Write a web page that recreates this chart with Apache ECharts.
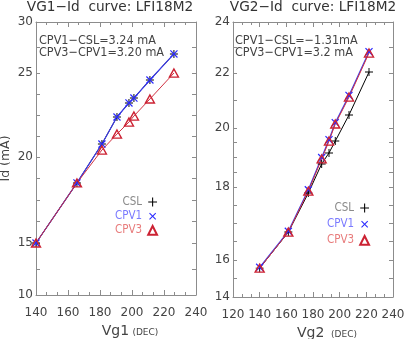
<!DOCTYPE html>
<html>
<head>
<meta charset="utf-8">
<script src="https://cdn.jsdelivr.net/npm/echarts@6/dist/echarts.min.js"></script>
<style>
  html, body { margin: 0; padding: 0; background: #fff; }
  #chart { width: 409px; height: 339px; }
</style>
</head>
<body>
<div id="chart"></div>
<script>
// left panel (Vg1 sweep); y values are read on the plot's linear scale
const vg1 = [140, 165.6, 181.2, 190.6, 198.1, 201.2, 211.2, 226.2]
const csl1 = [13.81, 18.21, 21.06, 23.04, 24.07, 24.43, 25.75, 27.66]
const cpv1A = [13.81, 18.21, 21.06, 23.04, 24.07, 24.43, 25.75, 27.66]
const cpv3A = [13.81, 18.21, 20.62, 21.79, 22.67, 23.11, 24.36, 26.26]
const yTickPos1 = [10, 13.81, 20.11, 26.26, 30]
const yTickText1 = ['10', '15', '20', '25', '30']
const yMinor1 = [11.9, 15.39, 16.96, 18.54, 21.65, 23.19, 24.72, 28.13]
const xTicks1 = [140, 240, 20]

// right panel (Vg2 sweep)
const vg2 = [140, 161.5, 176.5, 186.5, 192, 196.7, 207, 222]
const csl2 = [15.05, 16.36, 17.78, 18.84, 19.24, 19.67, 20.62, 22.18]
const cpv1B = [15.08, 16.39, 17.9, 19.07, 19.72, 20.34, 21.33, 22.92]
const cpv3B = [15.05, 16.36, 17.85, 19.02, 19.67, 20.29, 21.27, 22.87]
const yTickPos2 = [14, 15.35, 18, 20.15, 22.15, 24]
const yTickText2 = ['14', '16', '18', '20', '22', '24']
const yMinor2 = [14.68, 16.01, 16.68, 17.34, 18.54, 19.08, 19.61, 21.15, 23.08]
const xTicks2 = [120, 240, 20]

const FONT = 'DejaVu Sans'
const NARROW = '"DejaVu Sans Condensed", "DejaVu Sans"'
const FRAME = '#8c8c8c'
const TEXT = '#444'

const PLUS = 'path://M4.4,0h1.2v10h-1.2z M0,4.4h10v1.2h-10z'
const TRI = 'path://M5,0L10,9L0,9Z'

function xAxes(gridIndex, range, name) {
  const base = {
    type: 'value',
    gridIndex,
    min: range[0],
    max: range[1],
    interval: range[2],
    splitLine: { show: false },
    axisLine: { onZero: false, lineStyle: { color: FRAME } },
    axisTick: { inside: true, length: 5, lineStyle: { color: FRAME } },
    minorTick: { show: true, splitNumber: 3, length: 3, lineStyle: { color: FRAME } }
  }
  return [
    Object.assign({}, base, {
      position: 'bottom',
      name,
      nameLocation: 'middle',
      nameGap: 26,
      nameTextStyle: {
        padding: [0, 0, 0, 28],
        rich: {
          a: { fontFamily: FONT, fontSize: 14, color: TEXT },
          b: { fontFamily: FONT, fontSize: 9, color: TEXT, padding: [3, 0, 0, 0] }
        }
      },
      axisLabel: { margin: 12, color: TEXT, fontFamily: FONT, fontSize: 12 }
    }),
    Object.assign({}, base, { position: 'top', axisLabel: { show: false } })
  ]
}

function yAxes(gridIndex, pos, text, minor, name) {
  const base = {
    type: 'value',
    gridIndex,
    min: pos[0],
    max: pos[pos.length - 1],
    splitLine: { show: false },
    axisLine: { onZero: false, lineStyle: { color: FRAME } },
    axisTick: { inside: true, length: 4, customValues: pos.concat(minor), lineStyle: { color: FRAME } }
  }
  return [
    Object.assign({}, base, {
      position: 'left',
      name,
      nameLocation: 'middle',
      nameGap: 24,
      nameTextStyle: { color: TEXT, fontFamily: FONT, fontSize: 12.5 },
      axisLabel: {
        margin: 3,
        color: TEXT,
        fontFamily: FONT,
        fontSize: 12,
        customValues: pos,
        formatter: v => text[pos.indexOf(v)]
      }
    }),
    Object.assign({}, base, { position: 'right', axisLabel: { show: false } })
  ]
}

function panelSeries(xs, csl, cpv1, cpv3, axisIndex) {
  const pts = ys => xs.map((x, i) => [x, ys[i]])
  return [
    {
      name: 'CSL', type: 'line', xAxisIndex: axisIndex, yAxisIndex: axisIndex,
      data: pts(csl), symbol: PLUS, symbolSize: 8,
      itemStyle: { color: '#000' }, lineStyle: { color: '#000', width: 1 }
    },
    {
      name: 'CPV1', type: 'line', xAxisIndex: axisIndex, yAxisIndex: axisIndex,
      data: pts(cpv1), symbol: PLUS, symbolSize: 10, symbolRotate: 45,
      itemStyle: { color: '#2a2aff' }, lineStyle: { color: '#3c3ce8', width: 1.2 }
    },
    {
      name: 'CPV3', type: 'line', xAxisIndex: axisIndex, yAxisIndex: axisIndex,
      data: pts(cpv3), symbol: TRI, symbolSize: [9, 8],
      itemStyle: { color: 'rgba(255,255,255,0)', borderColor: '#cc2233', borderWidth: 1.4 },
      lineStyle: { color: '#d03040', width: 1 }
    }
  ]
}

function legendAt(left, top, gap, width) {
  return {
    orient: 'vertical',
    left,
    top,
    align: 'right',
    itemGap: gap,
    itemWidth: 11,
    itemHeight: 11,
    selectedMode: false,
    lineStyle: { opacity: 0 },
    textStyle: { fontFamily: NARROW, fontSize: 11.5, width, align: 'left', padding: 0 },
    data: [
      { name: 'CSL', textStyle: { color: '#8a8a8a' } },
      { name: 'CPV1', textStyle: { color: '#7b7bff' } },
      { name: 'CPV3', textStyle: { color: '#e87c7c' } }
    ]
  }
}

const chart = echarts.init(document.getElementById('chart'))

chart.setOption({
  animation: false,
  title: [
    {
      text: 'VG1−Id  curve: LFI18M2', left: 110, top: 0, padding: 0, textAlign: 'center',
      textStyle: { fontFamily: FONT, fontSize: 13.7, fontWeight: 'normal', color: '#333' }
    },
    {
      text: 'VG2−Id  curve: LFI18M2', left: 313, top: 0, padding: 0, textAlign: 'center',
      textStyle: { fontFamily: FONT, fontSize: 13.7, fontWeight: 'normal', color: '#333' }
    }
  ],
  grid: [
    { left: 36, top: 22, width: 160, height: 273, outerBoundsMode: 'none' },
    { left: 233, top: 22, width: 160, height: 275, outerBoundsMode: 'none' }
  ],
  legend: [
    legendAt(110, 191, 2, 49),
    legendAt(322, 197, 4, 42)
  ],
  xAxis: [
    ...xAxes(0, xTicks1, '{a|Vg1} {b|(DEC)}'),
    ...xAxes(1, xTicks2, '{a|Vg2}  {b|(DEC)}')
  ],
  yAxis: [
    ...yAxes(0, yTickPos1, yTickText1, yMinor1, 'Id (mA)'),
    ...yAxes(1, yTickPos2, yTickText2, yMinor2, '')
  ],
  graphic: [
    {
      type: 'text', left: 39, top: 34,
      style: {
        text: 'CPV1−CSL=3.24 mA\nCPV3−CPV1=3.20 mA',
        font: '12.5px "DejaVu Sans Condensed", "DejaVu Sans"', fill: TEXT, lineHeight: 12
      }
    },
    {
      type: 'text', left: 235, top: 34,
      style: {
        text: 'CPV1−CSL=−1.31mA\nCPV3−CPV1=3.2 mA',
        font: '12.5px "DejaVu Sans Condensed", "DejaVu Sans"', fill: TEXT, lineHeight: 12
      }
    }
  ],
  series: [
    ...panelSeries(vg1, csl1, cpv1A, cpv3A, 0),
    ...panelSeries(vg2, csl2, cpv1B, cpv3B, 2)
  ]
})
</script>
</body>
</html>
